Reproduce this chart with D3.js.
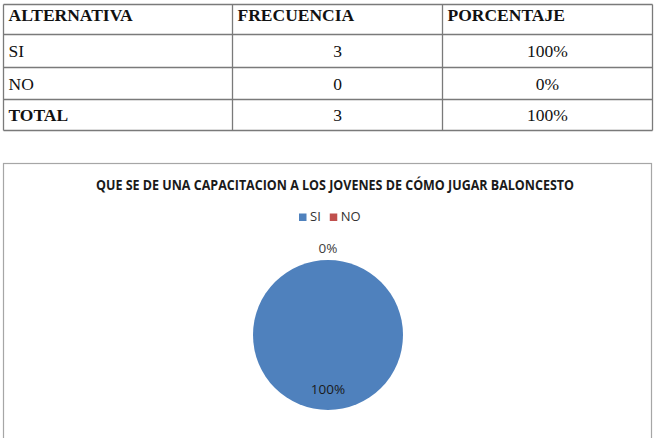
<!DOCTYPE html>
<html>
<head>
<meta charset="utf-8">
<script src="https://cdn.jsdelivr.net/npm/d3@7"></script>
<style>
  body { margin: 0; background: #fff; }
  svg { display: block; }
</style>
</head>
<body>
<svg id="chart" width="656" height="438"></svg>
<script>
// table data
const headers = ['ALTERNATIVA', 'FRECUENCIA', 'PORCENTAJE'];
const alternativas = ['SI', 'NO', 'TOTAL'];
const frecuencias = [3, 0, 3];
const porcentajes = ['100%', '0%', '100%'];

// pie data
const categories = ['SI', 'NO'];
const values = [3, 0];
const colors = ['#4F81BD', '#C0504D'];
const title = 'QUE SE DE UNA CAPACITACION A LOS JOVENES DE CÓMO JUGAR BALONCESTO';

const svg = d3.select('#chart');

// ---- table ----
const colX = [3.5, 232.5, 442.5, 652.5];
const rowY = [4.5, 34.5, 67.5, 99.5, 130.5];
const tbl = svg.append('g');
const lineColor = '#7a7a7a';

rowY.forEach(y => {
    tbl.append('line').attr('x1', colX[0]).attr('x2', colX[3]).attr('y1', y).attr('y2', y)
        .attr('stroke', lineColor).attr('stroke-width', 1.3);
});
colX.forEach(x => {
    tbl.append('line').attr('x1', x).attr('x2', x).attr('y1', rowY[0]).attr('y2', rowY[4])
        .attr('stroke', lineColor).attr('stroke-width', 1.3);
});

const serif = '"Liberation Serif", "Times New Roman", serif';
const fs = 17.5;
tbl.selectAll('text.h').data(headers).enter().append('text')
    .attr('x', (d, i) => colX[i] + 5)
    .attr('y', 21)
    .attr('font-family', serif).attr('font-size', fs).attr('font-weight', 'bold')
    .attr('fill', '#111')
    .text(d => d);

const rows = alternativas.map((a, i) => [a, frecuencias[i], porcentajes[i]]);
rows.forEach((r, i) => {
    const base = (rowY[i + 1] + rowY[i + 2]) / 2 + 6;
    const bold = r[0] === 'TOTAL';
    tbl.append('text').attr('x', colX[0] + 5).attr('y', base)
        .attr('font-family', serif).attr('font-size', fs)
        .attr('font-weight', bold ? 'bold' : 'normal').attr('fill', '#111').text(r[0]);
    tbl.append('text').attr('x', (colX[1] + colX[2]) / 2).attr('y', base)
        .attr('text-anchor', 'middle')
        .attr('font-family', serif).attr('font-size', fs).attr('fill', '#111').text(r[1]);
    tbl.append('text').attr('x', (colX[2] + colX[3]) / 2).attr('y', base)
        .attr('text-anchor', 'middle')
        .attr('font-family', serif).attr('font-size', fs).attr('fill', '#111').text(r[2]);
});

// ---- pie chart ----
const sans = '"Open Sans", "Noto Sans", sans-serif';
svg.append('rect')
    .attr('x', 3.5).attr('y', 163.5).attr('width', 648).attr('height', 280)
    .attr('fill', '#fff').attr('stroke', '#a6a6a6').attr('stroke-width', 1.2);

svg.append('text')
    .attr('x', 335).attr('y', 190)
    .attr('text-anchor', 'middle')
    .attr('font-family', sans).attr('font-size', 14).attr('font-weight', 'bold')
    .attr('textLength', 478).attr('lengthAdjust', 'spacingAndGlyphs')
    .attr('fill', '#1a1a1a')
    .text(title);

// legend
const legend = svg.append('g').attr('transform', 'translate(299,221)');
let lx = 0;
categories.forEach((c, i) => {
    legend.append('rect').attr('x', lx).attr('y', -7.5).attr('width', 7.5).attr('height', 7.5)
        .attr('fill', colors[i]);
    const t = legend.append('text').attr('x', lx + 11).attr('y', 0)
        .attr('font-family', sans).attr('font-size', 13).attr('fill', '#333').text(c);
    lx += 11 + t.node().getComputedTextLength() + 9;
});

const cx = 328, cy = 335, r = 75;
const pie = d3.pie().sort(null).value(d => d.value);
const slices = pie(categories.map((c, i) => ({ name: c, value: values[i], color: colors[i] })));
const arc = d3.arc().innerRadius(0).outerRadius(r);
const inLabel = d3.arc().innerRadius(r * 0.73).outerRadius(r * 0.73);
const outLabel = d3.arc().innerRadius(r + 12).outerRadius(r + 12);

const g = svg.append('g').attr('transform', `translate(${cx},${cy})`);
g.selectAll('path').data(slices).enter().append('path')
    .attr('d', arc)
    .attr('fill', d => d.data.color);

const total = d3.sum(values);
g.selectAll('text').data(slices).enter().append('text')
    .attr('transform', d => `translate(${(d.value > 0 ? inLabel : outLabel).centroid(d)})`)
    .attr('dy', '0.35em')
    .attr('text-anchor', 'middle')
    .attr('font-family', sans).attr('font-size', 13.5)
    .attr('fill', d => d.value > 0 ? '#1a1a1a' : '#404040')
    .text(d => Math.round(d.value / total * 100) + '%');
</script>
</body>
</html>
